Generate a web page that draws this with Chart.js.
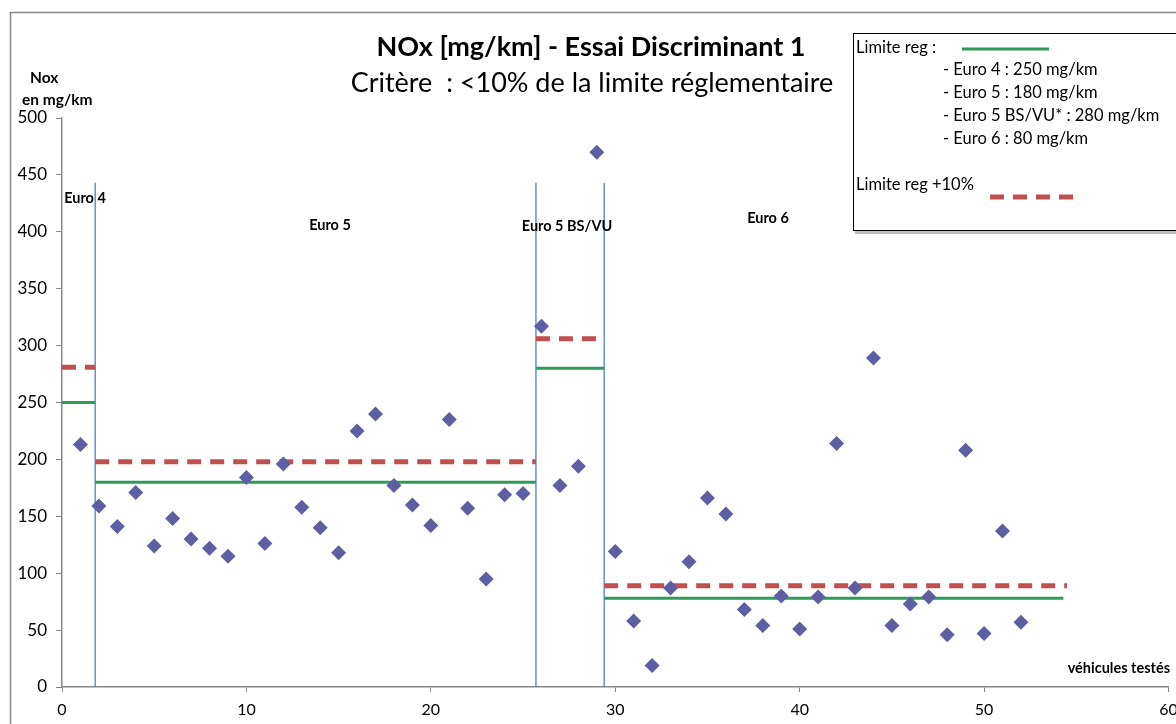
<!DOCTYPE html>
<html>
<head>
<meta charset="utf-8">
<script src="https://cdn.jsdelivr.net/npm/chart.js@4"></script>
<style>
  body { margin: 0; background: #fff; }
  #graphe { display: block; }
</style>
</head>
<body>
<canvas id="graphe" width="1176" height="724"></canvas>
<script>
// Données
const vehicules = [1, 2, 3, 4, 5, 6, 7, 8, 9, 10, 11, 12, 13, 14, 15, 16, 17, 18, 19, 20,
    21, 22, 23, 24, 25, 26, 27, 28, 29, 30, 31, 32, 33, 34, 35, 36, 37, 38, 39, 40,
    41, 42, 43, 44, 45, 46, 47, 48, 49, 50, 51, 52];
const nox = [213, 159, 141, 171, 124, 148, 130, 122, 115, 184, 126, 196, 158, 140, 118, 225, 240, 177, 160, 142,
    235, 157, 95, 169, 170, 317, 177, 194, 470, 119, 58, 19, 87, 110, 166, 152, 68, 54, 80, 51,
    79, 214, 87, 289, 54, 73, 79, 46, 208, 47, 137, 57];

// Limites par norme (début / fin en abscisse)
const normes = ['Euro 4', 'Euro 5', 'Euro 5 BS/VU', 'Euro 6'];
const debutNorme = [0, 1.8, 25.7, 29.4];
const finLimite = [1.8, 25.7, 29.4, 54.3];
const finLimite10 = [1.8, 25.7, 29.4, 54.5];
const limiteReg = [250, 180, 280, 78];
const limiteReg10 = [281, 198, 306, 89];

// Séparateurs verticaux
const separateurs = [1.8, 25.7, 29.4];
const hautSeparateur = 443;

const xTicks = [0, 10, 20, 30, 40, 50, 60];
const legendeLignes = ['- Euro 4 : 250 mg/km', '- Euro 5 : 180 mg/km', '- Euro 5 BS/VU* : 280 mg/km', '- Euro 6 : 80 mg/km'];

const VERT = '#2F9A5A';
const ROUGE = '#C0504D';
const BLEU = '#4F81BD';
const VIOLET = '#5E5FA3';
const GRIS = '#868686';
const POLICE = 'Lato, "Open Sans", sans-serif';

const datasets = [];

// lignes limite reg
normes.forEach((n, i) => {
    datasets.push({
        label: 'Limite ' + n,
        data: [{ x: debutNorme[i], y: limiteReg[i] }, { x: finLimite[i], y: limiteReg[i] }],
        showLine: true, borderColor: VERT, borderWidth: 3, pointRadius: 0, order: 3
    });
    datasets.push({
        label: 'Limite +10% ' + n,
        data: [{ x: debutNorme[i], y: limiteReg10[i] }, { x: finLimite10[i], y: limiteReg10[i] }],
        showLine: true, borderColor: ROUGE, borderWidth: 5, borderDash: [14, 9],
        borderCapStyle: 'butt', pointRadius: 0, order: 2
    });
});

separateurs.forEach(s => {
    datasets.push({
        label: 'sep',
        data: [{ x: s, y: 0 }, { x: s, y: hautSeparateur }],
        showLine: true, borderColor: BLEU, borderWidth: 1.3, pointRadius: 0, order: 4
    });
});

datasets.push({
    label: 'NOx',
    data: vehicules.map((v, i) => ({ x: v, y: nox[i] })),
    pointStyle: 'rectRot', pointRadius: 7.5, pointHoverRadius: 7.5,
    backgroundColor: VIOLET, borderColor: VIOLET, borderWidth: 0, order: 1
});

function texte(ctx, t, x, y, font, align) {
    ctx.font = font;
    ctx.textAlign = align || 'left';
    ctx.textBaseline = 'middle';
    ctx.fillStyle = '#000';
    ctx.fillText(t, x, y);
}

const decor = {
    id: 'decor',
    beforeDraw(chart) {
        const ctx = chart.ctx;
        ctx.save();
        ctx.fillStyle = '#fff';
        ctx.fillRect(0, 0, chart.width, chart.height);
        ctx.strokeStyle = GRIS;
        ctx.lineWidth = 1.5;
        ctx.beginPath();
        ctx.moveTo(10.5, chart.height);
        ctx.lineTo(10.5, 12.5);
        ctx.lineTo(chart.width, 12.5);
        ctx.stroke();
        ctx.restore();
    },
    afterDraw(chart) {
        const ctx = chart.ctx;
        ctx.save();
        texte(ctx, 'NOx [mg/km] - Essai Discriminant 1', 591, 47, 'bold 27px ' + POLICE, 'center');
        texte(ctx, 'Critère  : <10% de la limite réglementaire', 592, 83, '27px ' + POLICE, 'center');
        texte(ctx, 'Nox', 30, 78, 'bold 15.5px ' + POLICE);
        texte(ctx, 'en mg/km', 22, 100, 'bold 15.5px ' + POLICE);
        texte(ctx, 'véhicules testés', 1170, 668, 'bold 14.5px ' + POLICE, 'right');

        const posEtiq = [[85, 198], [330, 225], [567, 226], [768, 218]];
        normes.forEach((n, i) => texte(ctx, n, posEtiq[i][0], posEtiq[i][1], 'bold 14.5px ' + POLICE, 'center'));

        // cadre de la légende
        ctx.fillStyle = '#fff';
        ctx.fillRect(853, 33, 330, 197);
        ctx.strokeStyle = '#000';
        ctx.lineWidth = 1;
        ctx.strokeRect(853.5, 33.5, 330, 197);
        ctx.fillStyle = '#bdbdbd';
        ctx.fillRect(855, 231, 330, 3);

        texte(ctx, 'Limite reg :', 856, 48, '16.5px ' + POLICE);
        ctx.strokeStyle = VERT;
        ctx.lineWidth = 3;
        ctx.beginPath();
        ctx.moveTo(962, 49);
        ctx.lineTo(1049, 49);
        ctx.stroke();
        legendeLignes.forEach((l, i) => texte(ctx, l, 943, 70 + i * 23, '16.5px ' + POLICE));
        texte(ctx, 'Limite reg +10%', 856, 185, '16.5px ' + POLICE);
        ctx.strokeStyle = ROUGE;
        ctx.lineWidth = 5;
        ctx.setLineDash([14, 9]);
        ctx.beginPath();
        ctx.moveTo(990, 197);
        ctx.lineTo(1073, 197);
        ctx.stroke();
        ctx.restore();
    }
};

new Chart(document.getElementById('graphe'), {
    type: 'scatter',
    data: { datasets },
    options: {
        responsive: false,
        animation: false,
        devicePixelRatio: 1,
        layout: { padding: { top: 118, left: 0, right: 0, bottom: 0 } },
        plugins: { legend: { display: false }, tooltip: { enabled: false } },
        scales: {
            x: {
                type: 'linear', min: 0, max: 60,
                afterBuildTicks: s => { s.ticks = xTicks.map(v => ({ value: v })); },
                afterFit: s => { s.height = 37; s.paddingLeft = 0; s.paddingRight = 0; },
                grid: { drawOnChartArea: false, drawTicks: true, tickLength: 5, color: GRIS },
                border: { display: true, color: GRIS, width: 1.5 },
                ticks: { color: '#000', font: { family: POLICE, size: 16 }, padding: 8, maxRotation: 0 }
            },
            y: {
                min: 0, max: 500,
                afterFit: s => { s.width = 62; s.paddingTop = 0; s.paddingBottom = 0; },
                grid: { drawOnChartArea: false, drawTicks: true, tickLength: 6, color: GRIS },
                border: { display: true, color: GRIS, width: 1.5 },
                ticks: { stepSize: 50, color: '#000', font: { family: POLICE, size: 17 }, padding: 9 }
            }
        }
    },
    plugins: [decor]
});
</script>
</body>
</html>
